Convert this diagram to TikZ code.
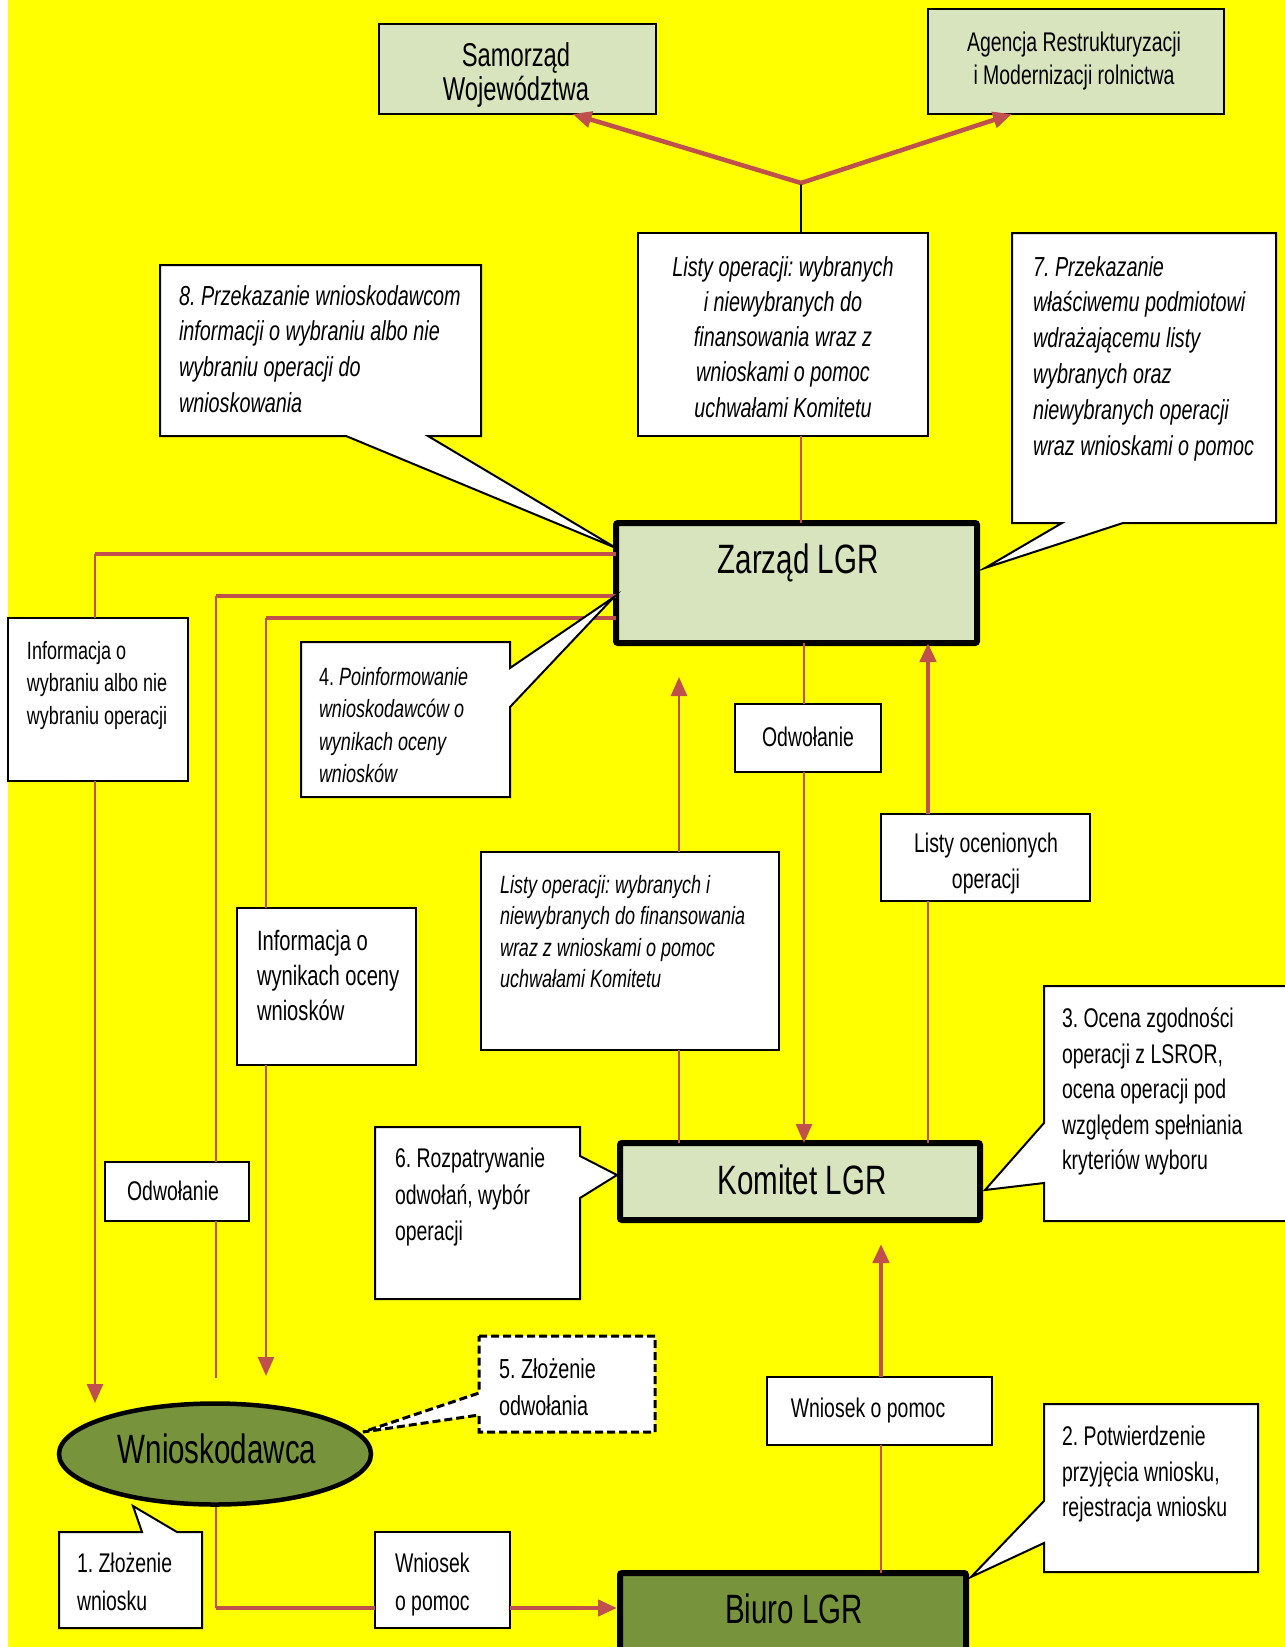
\documentclass[tikz,border=0pt]{standalone}
\usepackage{fontspec}
\setmainfont{Liberation Sans}[FakeStretch=0.72]
\usetikzlibrary{arrows.meta,calc,shapes.geometric}
\definecolor{bgyel}{HTML}{FFFF00}
\definecolor{lgreen}{HTML}{D7E4BD}
\definecolor{olivegr}{HTML}{77933C}
\definecolor{lred}{RGB}{192,80,77}
\newcommand\fsz[2]{\fontsize{#1pt}{#2pt}\selectfont}
\newcommand\tstrut{\rule{0pt}{0.8em}}
\frenchspacing
\begin{document}
\begin{tikzpicture}[x=1pt,y=-1pt,
  wbox/.style={draw=black,line width=2pt,fill=white,inner sep=0,outer sep=0,anchor=north west},
  gbox/.style={draw=black,line width=2pt,fill=lgreen,inner sep=0,outer sep=0,anchor=north west},
  bigbox/.style={draw=black,line width=6pt,fill=lgreen,inner sep=0,outer sep=0,anchor=north west,rounded corners=2pt},
  callbox/.style={draw=black,line width=2pt,fill=white,line join=miter},
  thinr/.style={draw=lred,line width=2.5pt},
  thickr/.style={draw=lred,line width=4.5pt},
  arr/.style={-{Triangle[length=19pt,width=16pt]}},
  tl/.style={inner sep=0,outer sep=0,anchor=north west,align=left},
  tc/.style={inner sep=0,outer sep=0,anchor=north,align=center},
  tb/.style={inner sep=0,outer sep=0,anchor=base},
]
\useasboundingbox (0,0) rectangle (1285,1647);
\fill[white] (0,0) rectangle (1285,1647);
\fill[bgyel] (8,0) rectangle (1285,1647);

% ---------- boxes ----------
\node[gbox,minimum width=277pt,minimum height=90pt] (samo) at (379,24) {};
\node[gbox,minimum width=296pt,minimum height=105pt] (agen) at (928,9) {};
\node[wbox,minimum width=290pt,minimum height=203pt] (listtop) at (638,233) {};
\node[bigbox,minimum width=361pt,minimum height=120pt] (zarz) at (616,523) {};
\node[wbox,minimum width=180pt,minimum height=163pt] (infw) at (8,618) {};
\node[wbox,minimum width=146pt,minimum height=68pt] (odw1) at (735,704) {};
\node[wbox,minimum width=209pt,minimum height=87pt] (lok) at (881,814) {};
\node[wbox,minimum width=298pt,minimum height=198pt] (listmid) at (481,852) {};
\node[wbox,minimum width=179pt,minimum height=157pt] (infwy) at (237,908) {};
\node[bigbox,minimum width=360pt,minimum height=77pt] (kom) at (620,1143) {};
\node[wbox,minimum width=144pt,minimum height=59pt] (odw2) at (105,1162) {};
\node[draw=black,line width=4.5pt,fill=olivegr,ellipse,minimum width=312pt,minimum height=101pt,inner sep=0] (wn) at (215,1454) {};
\node[wbox,minimum width=135pt,minimum height=96pt] (wop1) at (375,1532) {};
\node[bigbox,fill=olivegr,minimum width=346pt,minimum height=110pt] (biuro) at (620,1573) {};
\node[wbox,minimum width=225pt,minimum height=68pt] (wop2) at (767,1377) {};

% ---------- connectors ----------
\coordinate (J) at (801,183);
\draw[black,line width=2.5pt] (J |- listtop.north) -- (J);
\draw[thickr,arr] (J) -- ([xshift=55pt]samo.south);
\draw[thickr,arr] (J) -- ([xshift=-64pt]agen.south);
\draw[thinr] (J |- listtop.south) -- (J |- zarz.north);

\coordinate (c1) at (95,554);
\coordinate (c2) at (216,596);
\coordinate (c3) at (266,618);
\coordinate (tip1) at (95,1403);
\coordinate (end2) at (216,1378);
\coordinate (tip3) at (266,1376);
\draw[thickr] ([yshift=29pt]zarz.west) -- (c1);
\draw[thinr] (c1) -- (c1 |- infw.north);
\draw[thinr,arr] (c1 |- infw.south) -- (tip1);
\draw[thickr] ([yshift=-13pt]zarz.west) -- (c2);
\draw[thinr] (c2) -- (c2 |- odw2.north);
\draw[thinr] (c2 |- odw2.south) -- (end2);
\draw[thickr] ([yshift=-35pt]zarz.west) -- (c3);
\draw[thinr] (c3) -- (c3 |- infwy.north);
\draw[thinr,arr] (c3 |- infwy.south) -- (tip3);

\coordinate (m1) at (679,677);
\coordinate (m2) at (804,0);
\coordinate (m3) at (928,0);
\coordinate (m4) at (881,1244);
\draw[thinr,arr] (m1 |- listmid.north) -- (m1);
\draw[thinr] (m1 |- listmid.south) -- (m1 |- kom.north);
\draw[thinr] (m2 |- zarz.south) -- (m2 |- odw1.north);
\draw[thinr,arr] (m2 |- odw1.south) -- (m2 |- kom.north);
\draw[thinr] (m3 |- kom.north) -- (m3 |- lok.south);
\draw[thickr,arr] (m3 |- lok.north) -- (m3 |- zarz.south);
\draw[thinr] (m4 |- biuro.north) -- (m4 |- wop2.south);
\draw[thickr,arr] (m4 |- wop2.north) -- (m4);

\coordinate (c5) at (216,1608);
\draw[thinr] (c5 |- wn.south) -- (c5);
\draw[thickr] (c5) -- (c5 -| wop1.west);
\draw[thickr,arr] (c5 -| wop1.east) -- ([xshift=-3pt]c5 -| biuro.west);

% ---------- callouts ----------
\draw[callbox] (160,265) -- (481,265) -- (481,436) -- (428,436) -- (616,548) -- (346,436) -- (160,436) -- cycle;
\draw[callbox] (1012,233) -- (1276,233) -- (1276,523) -- (1123,523) -- (985,568) -- (1062,523) -- (1012,523) -- cycle;
\draw[callbox] (301,642) -- (510,642) -- (510,668) -- (614,597) -- (510,707) -- (510,797) -- (301,797) -- cycle;
\draw[callbox] (1044,986) -- (1295,986) -- (1295,1221) -- (1044,1221) -- (1044,1183) -- (985,1190) -- (1044,1123) -- cycle;
\draw[callbox] (375,1127) -- (580,1127) -- (580,1156) -- (617,1175) -- (580,1198) -- (580,1299) -- (375,1299) -- cycle;
\draw[callbox,line width=3pt,dash pattern=on 8pt off 4pt] (479,1336) -- (655,1336) -- (655,1432) -- (479,1432) -- (479,1415) -- (363,1432) -- (479,1393) -- cycle;
\draw[callbox] (59,1532) -- (142,1532) -- (133,1506) -- (177,1532) -- (202,1532) -- (202,1628) -- (59,1628) -- cycle;
\draw[callbox] (1044,1404) -- (1258,1404) -- (1258,1572) -- (1044,1572) -- (1044,1543) -- (971,1577) -- (1044,1501) -- cycle;

% ---------- texts ----------
\node[tc,font=\fsz{33}{34}] (t-samo) at (516,40) {\tstrut Samorząd\\Województwa};
\node[tc,font=\fsz{27}{33}] (t-agen) at (1074,30) {\tstrut Agencja Restrukturyzacji\\i Modernizacji rolnictwa};
\node[tc,font=\fsz{27.5}{35.3}\itshape] (t-listtop) at (783,254) {\tstrut Listy operacji: wybranych\\i niewybranych do\\finansowania wraz z\\wnioskami o pomoc\\uchwałami Komitetu};
\node[tl,font=\fsz{27.5}{35.7}\itshape] (t-c8) at (179,283) {\tstrut 8. Przekazanie wnioskodawcom\\informacji o wybraniu albo nie\\wybraniu operacji do\\wnioskowania};
\node[tl,font=\fsz{27.5}{35.8}\itshape] (t-c7) at (1033,254) {\tstrut 7. Przekazanie\\właściwemu podmiotowi\\wdrażającemu listy\\wybranych oraz\\niewybranych operacji\\wraz wnioskami o pomoc};
\node[tb,font=\fsz{41}{45}] (t-zarz) at (798,573) {Zarząd LGR};
\node[tl,font=\fsz{25}{32.5}] (t-infw) at (27,639) {\tstrut Informacja o\\wybraniu albo nie\\wybraniu operacji};
\node[tl,font=\fsz{25}{32.5}] (t-c4) at (319,665) {\tstrut 4. \textit{Poinformowanie}\\\textit{wnioskodawców o}\\\textit{wynikach oceny}\\\textit{wniosków}};
\node[tb,font=\fsz{27}{33}] (t-odw1) at (808,746) {Odwołanie};
\node[tc,font=\fsz{27}{36}] (t-lok) at (986,831) {\tstrut Listy ocenionych\\operacji};
\node[tl,font=\fsz{25}{31.5}\itshape] (t-listmid) at (500,873) {\tstrut Listy operacji: wybranych i\\niewybranych do finansowania\\wraz z wnioskami o pomoc\\uchwałami Komitetu};
\node[tl,font=\fsz{28}{35}] (t-infwy) at (257,928) {\tstrut Informacja o\\wynikach oceny\\wniosków};
\node[tl,font=\fsz{27}{35.5}] (t-c3) at (1062,1006) {\tstrut 3. Ocena zgodności\\operacji z LSROR,\\ocena operacji pod\\względem spełniania\\kryteriów wyboru};
\node[tb,font=\fsz{41}{45}] (t-kom) at (802,1194) {Komitet LGR};
\node[tl,font=\fsz{27}{36.5}] (t-c6) at (395,1146) {\tstrut 6. Rozpatrywanie\\odwołań, wybór\\operacji};
\node[tb,font=\fsz{27}{33}] (t-odw2) at (173,1200) {Odwołanie};
\node[tl,font=\fsz{27.5}{37}] (t-c5) at (499,1356) {\tstrut 5. Złożenie\\odwołania};
\node[tb,font=\fsz{41}{45}] (t-wn) at (217,1463) {Wnioskodawca};
\node[tl,font=\fsz{27}{38}] (t-c1) at (77,1551) {\tstrut 1. Złożenie\\wniosku};
\node[tl,font=\fsz{27}{38}] (t-wop1) at (395,1551) {\tstrut Wniosek\\o pomoc};
\node[tb,font=\fsz{41}{45}] (t-biuro) at (794,1623) {Biuro LGR};
\node[tb,font=\fsz{27}{33}] (t-wop2) at (868,1417) {Wniosek o pomoc};
\node[tl,font=\fsz{27}{35.5}] (t-c2) at (1062,1424) {\tstrut 2. Potwierdzenie\\przyjęcia wniosku,\\rejestracja wniosku};
\end{tikzpicture}
\end{document}
